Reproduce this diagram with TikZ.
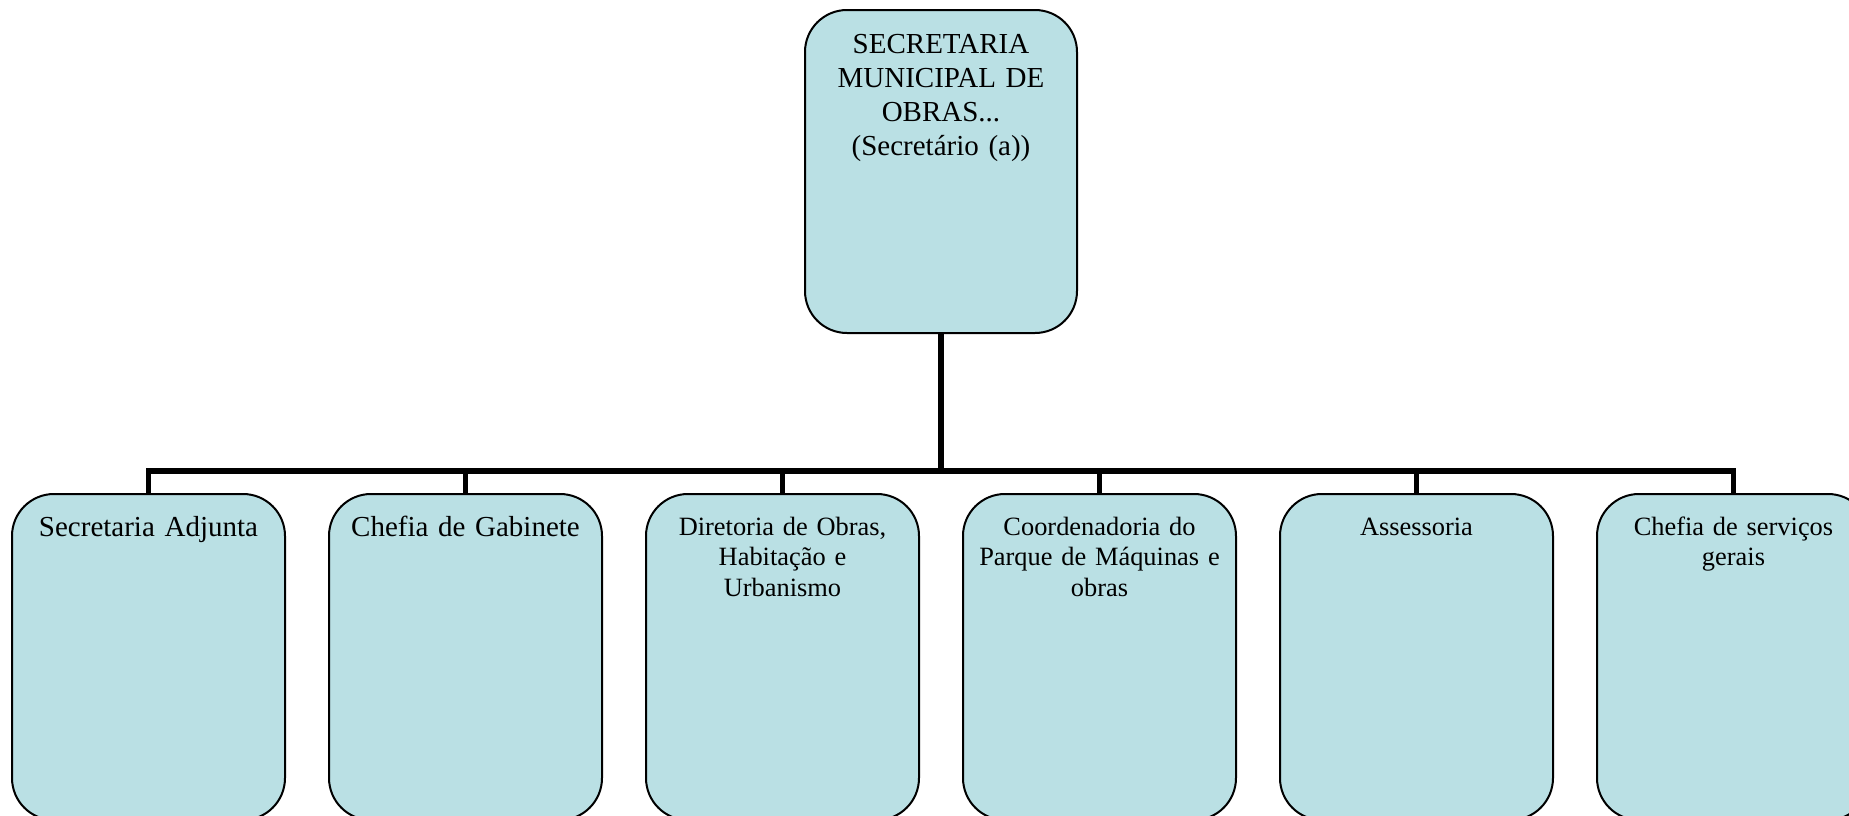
\documentclass[tikz,border=0pt]{standalone}
\usepackage{fontspec}
\setmainfont{Liberation Serif}
\definecolor{boxfill}{RGB}{186,224,228}
\begin{document}
\begin{tikzpicture}[x=0.5pt,y=-0.5pt,
  orgbox/.style={draw=black, line width=1pt, fill=boxfill, rounded corners=21pt, inner sep=0pt, minimum width=136.5pt, minimum height=163pt},
  bigtxt/.style={inner sep=0pt, anchor=base, text width=130pt, align=center, font=\fontsize{14.5pt}{17pt}\selectfont},
  smalltxt/.style={inner sep=0pt, anchor=base, text width=130pt, align=center, font=\fontsize{13.2pt}{15.3pt}\selectfont},
  conn/.style={line width=2.6pt, draw=black, line join=miter}]
\useasboundingbox (0,0) rectangle (1849,815);
\clip (0,0) rectangle (1849,815);
% top box
\node[orgbox, minimum width=136pt, minimum height=161.5pt] (top) at (941,171.5) {};
\node[bigtxt] (ttop) at (941,53) {SECRETARIA\\MUNICIPAL DE\\OBRAS...\\(Secretário (a))};
% bottom boxes
\node[orgbox] (b1) at (148.5,657) {};
\node[orgbox] (b2) at (465.5,657) {};
\node[orgbox] (b3) at (782.5,657) {};
\node[orgbox] (b4) at (1099.5,657) {};
\node[orgbox] (b5) at (1416.5,657) {};
\node[orgbox] (b6) at (1733.5,657) {};
\node[bigtxt] (t1) at (148.5,536) {Secretaria Adjunta};
\node[bigtxt] (t2) at (465.5,536) {Chefia de Gabinete};
\node[smalltxt] (t3) at (782.5,535) {Diretoria de Obras,\\Habitação e\\Urbanismo};
\node[smalltxt] (t4) at (1099.5,535) {Coordenadoria do\\Parque de Máquinas e\\obras};
\node[smalltxt] (t5) at (1416.5,535) {Assessoria};
\node[smalltxt] (t6) at (1733.5,535) {Chefia de serviços\\gerais};
% connectors
\coordinate (bus) at (941,471);
\draw[conn] (top.south) -- (bus);
\draw[conn] (bus) -| (b1.north);
\draw[conn] (bus) -| (b2.north);
\draw[conn] (bus) -| (b3.north);
\draw[conn] (bus) -| (b4.north);
\draw[conn] (bus) -| (b5.north);
\draw[conn] (bus) -| (b6.north);
\end{tikzpicture}
\end{document}
